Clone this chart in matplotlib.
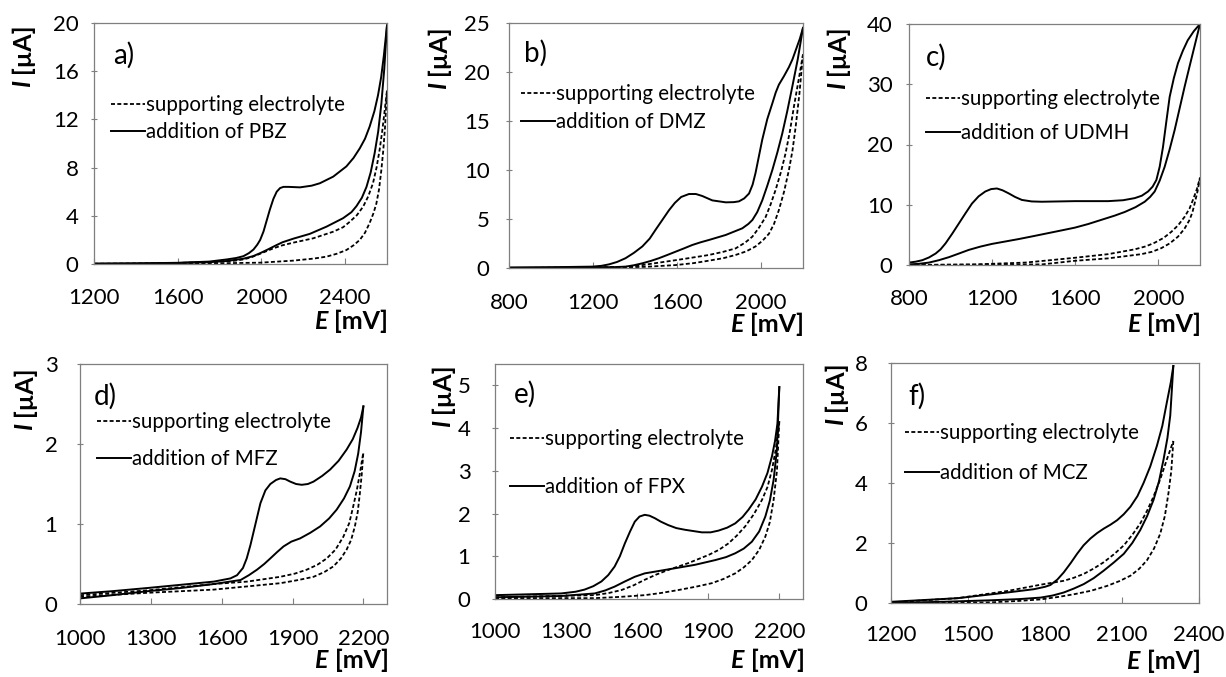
import matplotlib
matplotlib.use('Agg')
import matplotlib.pyplot as plt

plt.rcParams['font.family'] = ['Lato', 'DejaVu Sans']

# values: E [mV], I [uA]
# a) PBZ
pbz_sol_up_E = [1200, 1400, 1600, 1750, 1835, 1880, 1914, 1940, 1962, 1980, 1994, 2010, 2025, 2040, 2057, 2073, 2089, 2105, 2130, 2184, 2240, 2279, 2343, 2406, 2440, 2470, 2495, 2517, 2540, 2557, 2572, 2585, 2600]
pbz_sol_up_I = [0.03, 0.05, 0.1, 0.2, 0.38, 0.5, 0.65, 0.9, 1.2, 1.6, 2.0, 2.7, 3.6, 4.5, 5.4, 6.0, 6.3, 6.4, 6.4, 6.36, 6.5, 6.7, 7.25, 8.1, 8.8, 9.6, 10.4, 11.4, 12.7, 14.0, 15.5, 17.3, 19.8]
pbz_sol_lo_E = [1200, 1400, 1600, 1750, 1835, 1914, 1960, 1994, 2030, 2070, 2100, 2152, 2231, 2311, 2390, 2430, 2454, 2480, 2502, 2522, 2541, 2558, 2573, 2587, 2600]
pbz_sol_lo_I = [0.02, 0.04, 0.08, 0.15, 0.25, 0.44, 0.65, 0.9, 1.2, 1.55, 1.8, 2.1, 2.5, 3.1, 3.8, 4.3, 4.8, 5.5, 6.4, 7.6, 9.2, 11.0, 13.3, 16.2, 19.8]
pbz_dash_up_E = [1200, 1500, 1750, 1870, 1914, 1950, 1994, 2057, 2100, 2152, 2247, 2343, 2390, 2422, 2456, 2486, 2510, 2533, 2550, 2565, 2577, 2588, 2600]
pbz_dash_up_I = [0.02, 0.05, 0.15, 0.27, 0.38, 0.55, 0.85, 1.3, 1.55, 1.77, 2.13, 2.68, 3.05, 3.5, 4.05, 4.76, 5.6, 6.7, 8.0, 9.5, 11.0, 12.6, 14.4]
pbz_dash_lo_E = [1200, 1676, 1994, 2152, 2250, 2311, 2360, 2406, 2440, 2470, 2495, 2517, 2535, 2549, 2562, 2573, 2582, 2590, 2600]
pbz_dash_lo_I = [0.0, 0.03, 0.11, 0.28, 0.45, 0.61, 0.85, 1.16, 1.55, 2.0, 2.6, 3.4, 4.2, 5.0, 6.2, 7.8, 9.4, 11.2, 14.4]

# b) DMZ
dmz_sol_up_E = [800, 1000, 1197, 1240, 1276, 1315, 1355, 1395, 1435, 1470, 1498, 1530, 1562, 1590, 1620, 1657, 1690, 1720, 1768, 1832, 1870, 1895, 1920, 1943, 1960, 1974, 1990, 2006, 2030, 2054, 2070, 2085, 2110, 2133, 2150, 2165, 2185, 2200]
dmz_sol_up_I = [0.05, 0.08, 0.14, 0.22, 0.37, 0.62, 1.0, 1.55, 2.2, 3.0, 3.9, 4.9, 5.9, 6.65, 7.25, 7.55, 7.55, 7.35, 6.9, 6.7, 6.72, 6.8, 7.1, 7.6, 8.5, 9.7, 11.4, 13.1, 15.2, 16.8, 17.9, 18.7, 19.6, 20.5, 21.3, 22.2, 23.4, 24.5]
dmz_sol_lo_E = [800, 1100, 1300, 1355, 1395, 1435, 1475, 1514, 1554, 1594, 1633, 1673, 1712, 1752, 1832, 1911, 1940, 1959, 1982, 2006, 2030, 2054, 2078, 2101, 2125, 2149, 2175, 2200]
dmz_sol_lo_I = [0.02, 0.05, 0.09, 0.14, 0.28, 0.48, 0.72, 1.0, 1.33, 1.67, 2.0, 2.35, 2.62, 2.86, 3.37, 4.05, 4.5, 4.9, 5.7, 6.9, 8.4, 10.0, 11.8, 13.7, 16.0, 18.5, 21.3, 24.5]
dmz_dash_up_E = [800, 1200, 1350, 1435, 1515, 1594, 1670, 1752, 1820, 1879, 1925, 1959, 1990, 2022, 2046, 2070, 2095, 2117, 2138, 2157, 2180, 2200]
dmz_dash_up_I = [0.0, 0.05, 0.1, 0.3, 0.55, 0.8, 1.05, 1.33, 1.65, 2.0, 2.6, 3.2, 4.1, 5.2, 6.5, 8.0, 9.8, 11.7, 14.0, 16.5, 19.3, 21.8]
dmz_dash_lo_E = [800, 1300, 1450, 1594, 1680, 1752, 1820, 1879, 1930, 1974, 2008, 2038, 2062, 2085, 2110, 2133, 2150, 2165, 2183, 2200]
dmz_dash_lo_I = [0.0, 0.05, 0.12, 0.3, 0.5, 0.75, 1.0, 1.33, 1.7, 2.2, 2.8, 3.5, 4.5, 5.9, 7.8, 10.0, 12.0, 14.4, 17.8, 21.8]

# c) UDMH
udmh_sol_up_E = [800, 832, 864, 896, 928, 952, 976, 1008, 1040, 1072, 1103, 1135, 1167, 1195, 1223, 1250, 1279, 1310, 1343, 1390, 1439, 1598, 1758, 1830, 1886, 1920, 1950, 1972, 1990, 2006, 2022, 2038, 2054, 2074, 2094, 2118, 2141, 2170, 2200]
udmh_sol_up_I = [0.4, 0.55, 0.8, 1.25, 1.9, 2.6, 3.6, 5.2, 6.9, 8.6, 10.2, 11.4, 12.2, 12.6, 12.7, 12.4, 11.9, 11.3, 10.8, 10.55, 10.5, 10.6, 10.6, 10.75, 11.1, 11.5, 12.2, 13.0, 14.1, 16.3, 19.6, 23.8, 27.9, 31.0, 33.5, 35.6, 37.3, 38.8, 40.0]
udmh_sol_lo_E = [800, 848, 896, 944, 992, 1040, 1087, 1143, 1199, 1263, 1327, 1400, 1471, 1535, 1598, 1662, 1726, 1790, 1838, 1890, 1934, 1960, 1982, 2006, 2030, 2054, 2078, 2102, 2126, 2150, 2175, 2200]
udmh_sol_lo_I = [0.1, 0.2, 0.4, 0.8, 1.3, 1.9, 2.5, 3.05, 3.5, 3.9, 4.3, 4.8, 5.3, 5.75, 6.2, 6.8, 7.5, 8.2, 8.8, 9.6, 10.5, 11.3, 12.2, 14.0, 16.3, 19.2, 22.4, 26.0, 29.6, 33.0, 36.5, 40.0]
udmh_dash_up_E = [800, 1119, 1359, 1480, 1598, 1758, 1886, 1940, 1982, 2025, 2062, 2095, 2126, 2150, 2166, 2185, 2200]
udmh_dash_up_I = [0.0, 0.1, 0.4, 0.8, 1.2, 1.8, 2.6, 3.1, 3.7, 4.5, 5.5, 6.6, 8.0, 9.4, 10.8, 12.6, 14.5]
udmh_dash_lo_E = [800, 1439, 1520, 1598, 1758, 1918, 1970, 2014, 2055, 2094, 2125, 2150, 2164, 2174, 2188, 2200]
udmh_dash_lo_I = [0.0, 0.1, 0.4, 0.7, 1.1, 1.8, 2.2, 2.8, 3.6, 4.7, 6.0, 7.5, 8.8, 10.2, 12.2, 14.5]

# d) MFZ
mfz_sol_up_E = [1000, 1136, 1286, 1427, 1567, 1637, 1665, 1690, 1706, 1722, 1743, 1764, 1785, 1806, 1830, 1848, 1870, 1890, 1915, 1939, 1965, 1989, 2025, 2059, 2095, 2129, 2155, 2175, 2190, 2200]
mfz_sol_up_I = [0.13, 0.16, 0.2, 0.24, 0.28, 0.32, 0.36, 0.45, 0.57, 0.74, 1.0, 1.26, 1.42, 1.5, 1.55, 1.57, 1.56, 1.53, 1.5, 1.49, 1.5, 1.53, 1.6, 1.68, 1.79, 1.93, 2.06, 2.2, 2.33, 2.47]
mfz_sol_lo_E = [1000, 1136, 1286, 1427, 1567, 1680, 1715, 1750, 1780, 1806, 1835, 1862, 1895, 1932, 1975, 2017, 2055, 2087, 2118, 2143, 2163, 2178, 2190, 2200]
mfz_sol_lo_I = [0.07, 0.11, 0.16, 0.2, 0.25, 0.3, 0.36, 0.43, 0.5, 0.57, 0.65, 0.72, 0.78, 0.82, 0.89, 0.97, 1.07, 1.18, 1.32, 1.47, 1.66, 1.88, 2.15, 2.47]
mfz_dash_up_E = [1000, 1286, 1567, 1708, 1848, 1910, 1961, 2005, 2045, 2082, 2115, 2140, 2157, 2172, 2185, 2200]
mfz_dash_up_I = [0.11, 0.17, 0.25, 0.28, 0.34, 0.38, 0.43, 0.49, 0.57, 0.68, 0.84, 1.01, 1.22, 1.42, 1.63, 1.9]
mfz_dash_lo_E = [1000, 1286, 1567, 1708, 1848, 1925, 1989, 2035, 2073, 2105, 2129, 2148, 2164, 2176, 2185, 2193, 2200]
mfz_dash_lo_I = [0.09, 0.14, 0.18, 0.22, 0.26, 0.3, 0.34, 0.4, 0.47, 0.57, 0.68, 0.8, 0.97, 1.15, 1.38, 1.62, 1.9]

# e) FPX
fpx_sol_up_E = [1000, 1279, 1340, 1378, 1415, 1449, 1478, 1505, 1527, 1548, 1570, 1590, 1610, 1632, 1652, 1675, 1700, 1731, 1765, 1802, 1873, 1910, 1943, 1980, 2014, 2045, 2070, 2100, 2127, 2150, 2169, 2182, 2192, 2200]
fpx_sol_up_I = [0.09, 0.13, 0.17, 0.22, 0.3, 0.41, 0.56, 0.76, 1.0, 1.3, 1.58, 1.81, 1.93, 1.97, 1.95, 1.89, 1.81, 1.73, 1.66, 1.62, 1.56, 1.56, 1.6, 1.67, 1.77, 1.92, 2.09, 2.33, 2.63, 2.95, 3.34, 3.7, 4.1, 4.96]
fpx_sol_lo_E = [1000, 1279, 1421, 1465, 1505, 1548, 1590, 1632, 1675, 1717, 1760, 1844, 1929, 1975, 2014, 2050, 2084, 2115, 2141, 2160, 2176, 2190, 2200]
fpx_sol_lo_I = [0.04, 0.07, 0.13, 0.2, 0.29, 0.41, 0.52, 0.6, 0.64, 0.68, 0.72, 0.8, 0.91, 0.98, 1.07, 1.18, 1.34, 1.58, 1.93, 2.3, 2.79, 3.5, 4.96]
fpx_dash_up_E = [1000, 1421, 1480, 1534, 1585, 1632, 1680, 1731, 1816, 1901, 1945, 1985, 2020, 2056, 2092, 2127, 2150, 2169, 2185, 2200]
fpx_dash_up_I = [0.04, 0.09, 0.14, 0.21, 0.32, 0.45, 0.57, 0.68, 0.84, 1.03, 1.15, 1.3, 1.48, 1.7, 1.98, 2.32, 2.62, 3.02, 3.5, 4.16]
fpx_dash_lo_E = [1000, 1421, 1530, 1632, 1700, 1774, 1850, 1915, 1965, 2014, 2050, 2084, 2115, 2141, 2160, 2176, 2190, 2200]
fpx_dash_lo_I = [0.02, 0.02, 0.05, 0.09, 0.14, 0.21, 0.29, 0.37, 0.47, 0.6, 0.74, 0.91, 1.15, 1.46, 1.8, 2.32, 3.0, 4.16]

# f) MCZ
mcz_sol_up_E = [1200, 1459, 1653, 1757, 1800, 1821, 1848, 1873, 1900, 1925, 1950, 1977, 2003, 2029, 2055, 2081, 2107, 2133, 2160, 2184, 2210, 2236, 2257, 2275, 2290, 2300]
mcz_sol_up_I = [0.04, 0.16, 0.35, 0.46, 0.54, 0.6, 0.78, 1.02, 1.33, 1.64, 1.92, 2.15, 2.33, 2.48, 2.61, 2.76, 2.96, 3.21, 3.56, 4.0, 4.55, 5.24, 5.9, 6.7, 7.35, 7.9]
mcz_sol_lo_E = [1200, 1400, 1588, 1700, 1783, 1830, 1873, 1912, 1951, 1990, 2029, 2068, 2107, 2140, 2171, 2198, 2223, 2244, 2262, 2277, 2288, 2300]
mcz_sol_lo_I = [0.0, 0.04, 0.09, 0.13, 0.18, 0.25, 0.35, 0.48, 0.63, 0.83, 1.08, 1.35, 1.64, 2.0, 2.43, 2.9, 3.44, 4.05, 4.79, 5.5, 6.25, 7.9]
mcz_dash_up_E = [1200, 1459, 1653, 1783, 1873, 1912, 1951, 1990, 2029, 2068, 2107, 2140, 2171, 2198, 2223, 2250, 2275, 2300]
mcz_dash_up_I = [0.02, 0.16, 0.4, 0.61, 0.74, 0.84, 0.97, 1.15, 1.36, 1.62, 1.92, 2.27, 2.65, 3.08, 3.55, 4.15, 4.79, 5.4]
mcz_dash_lo_E = [1200, 1588, 1700, 1783, 1850, 1912, 1980, 2042, 2090, 2133, 2167, 2197, 2225, 2249, 2267, 2281, 2292, 2300]
mcz_dash_lo_I = [0.0, 0.02, 0.07, 0.12, 0.2, 0.29, 0.41, 0.57, 0.73, 0.91, 1.14, 1.42, 1.82, 2.31, 2.9, 3.66, 4.4, 5.4]

# axis ticks
pbz_xticks, pbz_yticks = [1200, 1600, 2000, 2400], [0, 4, 8, 12, 16, 20]
dmz_xticks, dmz_yticks = [800, 1200, 1600, 2000], [0, 5, 10, 15, 20, 25]
udmh_xticks, udmh_yticks = [800, 1200, 1600, 2000], [0, 10, 20, 30, 40]
mfz_xticks, mfz_yticks = [1000, 1300, 1600, 1900, 2200], [0, 1, 2, 3]
fpx_xticks, fpx_yticks = [1000, 1300, 1600, 1900, 2200], [0, 1, 2, 3, 4, 5]
mcz_xticks, mcz_yticks = [1200, 1500, 1800, 2100, 2400], [0, 2, 4, 6, 8]

W, H = 1226, 677
DASH = (2.2, 1.3)
LEG_FS = 14.8
LAB_FS = 18


def fig_box(left, top, right, bottom):
    return [left / W, 1 - bottom / H, (right - left) / W, (bottom - top) / H]


def draw_panel(fig, p):
    left, top, right, bottom = p['box']
    ax = fig.add_axes(fig_box(left, top, right, bottom))
    wpx, hpx = right - left, bottom - top

    sol_up, sol_lo, dash_up, dash_lo = p['curves']
    ax.plot(*dash_up, color='black', lw=1.3, dashes=DASH, label='supporting electrolyte')
    ax.plot(*dash_lo, color='black', lw=1.3, dashes=DASH)
    ax.plot(*sol_up, color='black', lw=1.4, label='addition of ' + p['name'])
    ax.plot(*sol_lo, color='black', lw=1.4)

    ax.set_xlim(p['xlim'])
    ax.set_ylim(p['ylim'])
    ax.set_xticks(p['xticks'])
    ax.set_yticks(p['yticks'])
    ax.tick_params(axis='x', direction='in', length=4.5, width=0.8, color='#7f7f7f',
                   pad=p['xpad'], labelsize=16)
    ax.tick_params(axis='y', direction='inout', length=5, width=0.8, color='#7f7f7f',
                   pad=p['ypad'], labelsize=16)
    for s in ax.spines.values():
        s.set_color('#7f7f7f')
        s.set_linewidth(0.9)

    hx, r1, r2 = p['legend']
    ax.legend(loc='center left', bbox_to_anchor=((hx - left) / wpx, 1 - ((r1 + r2) / 2 - top) / hpx),
              frameon=False, fontsize=LEG_FS, handlelength=1.65, handletextpad=0.05,
              borderpad=0, borderaxespad=0,
              labelspacing=(r2 - r1) / (LEG_FS * 100 / 72) - 0.95)

    tx, ty = p['tag_pos']
    ax.text((tx - left) / wpx, 1 - (ty - top) / hpx, p['tag'], transform=ax.transAxes,
            ha='left', va='center', fontsize=20)

    # y label: bold "[µA]" ending at the top, bold italic "I" below it
    lx, ly = p['ylab']
    yx = (lx - left) / wpx
    t_ua = ax.text(yx, 1 - (ly - top) / hpx, '[µA]', transform=ax.transAxes,
                   rotation=90, rotation_mode='anchor', ha='right', va='baseline',
                   fontsize=LAB_FS, fontweight='bold')
    ax.annotate('I', xy=(yx, 0), xycoords=(ax.transAxes, t_ua), xytext=(0, -5),
                textcoords='offset points', rotation=90, rotation_mode='anchor',
                ha='right', va='baseline', fontsize=LAB_FS, fontweight='bold', fontstyle='italic')

    # x label: bold "[mV]" flush right, bold italic "E" before it
    xy_base = -p['xlab_dy'] / hpx
    t_mv = ax.text(1.005, xy_base, '[mV]', transform=ax.transAxes, ha='right', va='baseline',
                   fontsize=LAB_FS, fontweight='bold')
    ax.annotate('E', xy=(0, xy_base), xycoords=(t_mv, ax.transAxes), xytext=(-5, 0),
                textcoords='offset points', ha='right', va='baseline',
                fontsize=LAB_FS, fontweight='bold', fontstyle='italic')


def main():
    panels = [
        dict(tag='a)', name='PBZ', box=(94, 23, 387, 264), xlim=(1200, 2600), ylim=(0, 20),
             xticks=pbz_xticks, yticks=pbz_yticks, xpad=17, ypad=8.6,
             curves=((pbz_sol_up_E, pbz_sol_up_I), (pbz_sol_lo_E, pbz_sol_lo_I),
                     (pbz_dash_up_E, pbz_dash_up_I), (pbz_dash_lo_E, pbz_dash_lo_I)),
             legend=(111, 105, 132), tag_pos=(113, 55), ylab=(30, 23), xlab_dy=65),
        dict(tag='b)', name='DMZ', box=(509, 23, 803, 268), xlim=(800, 2200), ylim=(0, 25),
             xticks=dmz_xticks, yticks=dmz_yticks, xpad=18, ypad=11.5,
             curves=((dmz_sol_up_E, dmz_sol_up_I), (dmz_sol_lo_E, dmz_sol_lo_I),
                     (dmz_dash_up_E, dmz_dash_up_I), (dmz_dash_lo_E, dmz_dash_lo_I)),
             legend=(521, 94, 122), tag_pos=(524, 53), ylab=(446, 25), xlab_dy=64),
        dict(tag='c)', name='UDMH', box=(909, 24, 1200, 265), xlim=(800, 2200), ylim=(0, 40),
             xticks=udmh_xticks, yticks=udmh_yticks, xpad=17, ypad=9.4,
             curves=((udmh_sol_up_E, udmh_sol_up_I), (udmh_sol_lo_E, udmh_sol_lo_I),
                     (udmh_dash_up_E, udmh_dash_up_I), (udmh_dash_lo_E, udmh_dash_lo_I)),
             legend=(926, 99, 133), tag_pos=(926, 57), ylab=(845, 25), xlab_dy=67),
        dict(tag='d)', name='MFZ', box=(80, 364, 387, 604), xlim=(1000, 2300), ylim=(0, 3),
             xticks=mfz_xticks, yticks=mfz_yticks, xpad=18, ypad=13.7,
             curves=((mfz_sol_up_E, mfz_sol_up_I), (mfz_sol_lo_E, mfz_sol_lo_I),
                     (mfz_dash_up_E, mfz_dash_up_I), (mfz_dash_lo_E, mfz_dash_lo_I)),
             legend=(97, 422, 459), tag_pos=(94, 396), ylab=(32, 366), xlab_dy=64),
        dict(tag='e)', name='FPX', box=(495, 364, 803, 599), xlim=(1000, 2300), ylim=(0, 5.5),
             xticks=fpx_xticks, yticks=fpx_yticks, xpad=16.5, ypad=15.1,
             curves=((fpx_sol_up_E, fpx_sol_up_I), (fpx_sol_lo_E, fpx_sol_lo_I),
                     (fpx_dash_up_E, fpx_dash_up_I), (fpx_dash_lo_E, fpx_dash_lo_I)),
             legend=(510, 439, 487), tag_pos=(514, 394), ylab=(450, 363), xlab_dy=69),
        dict(tag='f)', name='MCZ', box=(891, 363, 1199, 603), xlim=(1200, 2400), ylim=(0, 8),
             xticks=mcz_xticks, yticks=mcz_yticks, xpad=16, ypad=14.4,
             curves=((mcz_sol_up_E, mcz_sol_up_I), (mcz_sol_lo_E, mcz_sol_lo_I),
                     (mcz_dash_up_E, mcz_dash_up_I), (mcz_dash_lo_E, mcz_dash_lo_I)),
             legend=(905, 433, 473), tag_pos=(908, 396), ylab=(843, 361), xlab_dy=66),
    ]

    fig = plt.figure(figsize=(W / 100, H / 100), dpi=100)
    for p in panels:
        draw_panel(fig, p)
    fig.savefig('out.png', dpi=100)


if __name__ == '__main__':
    main()
